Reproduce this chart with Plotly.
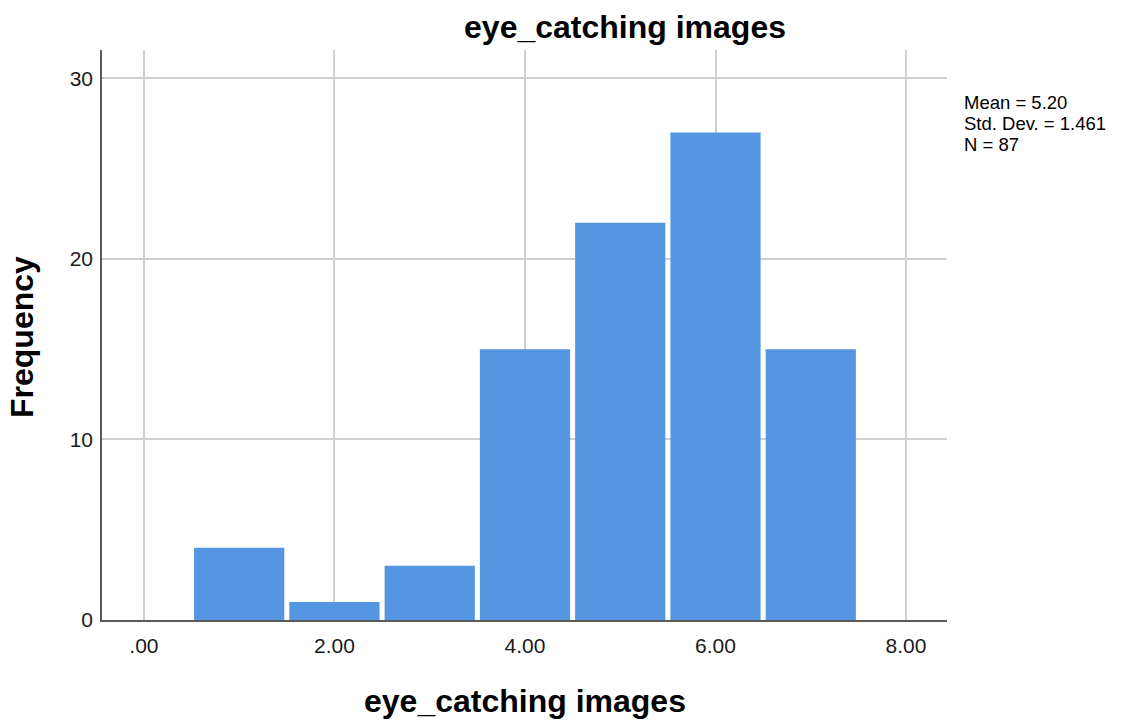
import plotly.graph_objects as go

bin_centers = [1, 2, 3, 4, 5, 6, 7]
frequencies = [4, 1, 3, 15, 22, 27, 15]
x_ticks = [0, 2, 4, 6, 8]
x_tick_labels = [".00", "2.00", "4.00", "6.00", "8.00"]
y_ticks = [0, 10, 20, 30]
stats_lines = ["Mean = 5.20", "Std. Dev. = 1.461", "N = 87"]
title = "eye_catching images"
y_label = "Frequency"

# figure geometry (body margin removed, so figure coords = page coords)
W, H = 1131, 725
L, R, T, B = 102, 184, 50, 105
PH = H - T - B  # plot height
PW = W - L - R

def py(fig_y):
    return (H - B - fig_y) / PH

def px(fig_x):
    return (fig_x - L) / PW

font = "Liberation Sans, Arial, sans-serif"

fig = go.Figure(go.Bar(
    x=bin_centers, y=frequencies, width=0.947,
    marker=dict(color="#5596E3", line=dict(width=0)),
    hoverinfo="x+y",
))

annotations = []
for i, line in enumerate(stats_lines):
    annotations.append(dict(
        text=line, xref="paper", yref="paper", x=px(962), y=py(102.5 + 20.8 * i),
        xanchor="left", yanchor="middle", showarrow=False, align="left",
        font=dict(family=font, size=18.5, color="#000")))
annotations.append(dict(
    text="<b>" + title + "</b>", xref="paper", yref="paper", x=0.5, y=py(701),
    xanchor="center", yanchor="middle", showarrow=False,
    font=dict(family=font, size=32, color="#000")))
annotations.append(dict(
    text="<b>" + y_label + "</b>", xref="paper", yref="paper", x=px(22), y=py(337),
    xanchor="center", yanchor="middle", showarrow=False, textangle=-90,
    font=dict(family=font, size=32, color="#000")))

fig.update_layout(
    width=W, height=H,
    margin=dict(l=L, r=R, t=T, b=B),
    plot_bgcolor="white", paper_bgcolor="white",
    showlegend=False,
    title=dict(text="<b>" + title + "</b>", x=625 / W, xanchor="center", xref="container",
               y=1 - 27 / H, yanchor="middle", yref="container",
               font=dict(family=font, size=32, color="#000")),
    xaxis=dict(range=[-0.44, 8.43], tickvals=x_ticks, ticktext=x_tick_labels,
               showgrid=True, gridcolor="#cfcfcf", gridwidth=2,
               showline=True, linecolor="#5a5a5a", linewidth=1.5,
               ticks="", zeroline=False, ticklabelstandoff=6,
               tickfont=dict(family=font, size=21, color="#1a1a1a")),
    yaxis=dict(range=[0, 31.57], tickvals=y_ticks,
               showgrid=True, gridcolor="#cfcfcf", gridwidth=2,
               showline=True, linecolor="#5a5a5a", linewidth=1.5,
               ticks="", zeroline=False, ticklabelstandoff=3,
               tickfont=dict(family=font, size=21, color="#1a1a1a")),
    annotations=annotations,
)
fig.write_html("out.html", config={"displayModeBar": False},
               post_script="document.body.style.margin='0px';")
